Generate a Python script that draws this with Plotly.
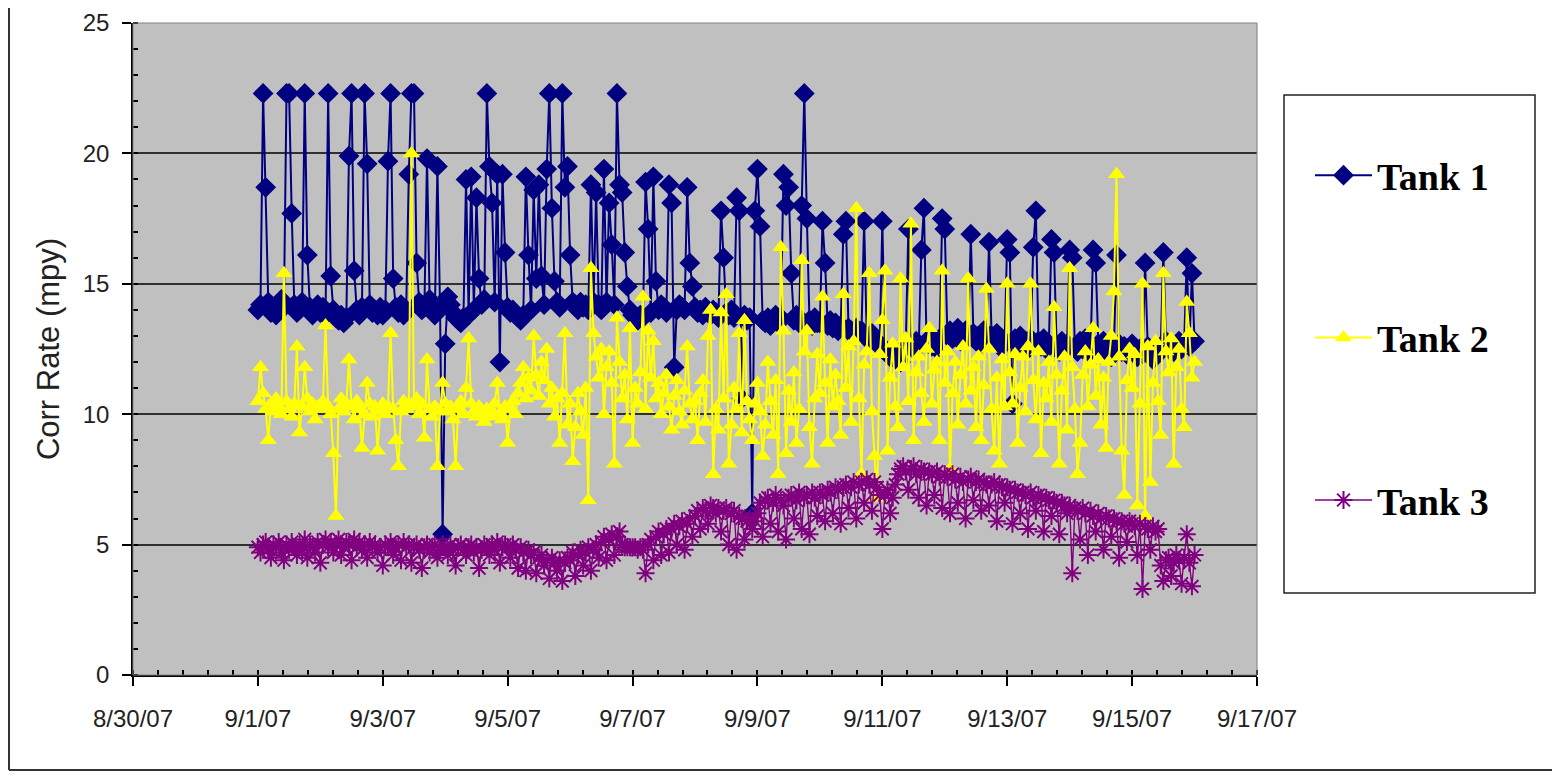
import pandas as pd
import plotly.graph_objects as go

# Hourly readings from 9/1/07 00:00 to 9/16/07 00:00 (one row per day)
start = "2007-09-01 00:00"
n_points = 361

tank1 = [
    14.0, 14.2, 22.3, 18.7, 14.3, 13.9, 14.1, 13.8, 14.0, 14.4, 14.1, 22.3, 22.3, 17.7, 14.2, 13.9, 14.0, 14.3, 22.3, 16.1, 14.1, 13.8, 14.0, 14.2,
    13.9, 14.1, 13.8, 22.3, 15.3, 14.0, 13.7, 13.6, 13.8, 13.5, 13.7, 19.9, 22.3, 15.5, 14.0, 13.8, 14.1, 22.3, 19.6, 14.2, 13.9, 14.0, 13.8, 14.1,
    13.8, 14.0, 19.7, 22.3, 15.2, 14.1, 13.9, 14.2, 13.8, 14.0, 19.2, 22.3, 22.3, 15.8, 14.3, 14.0, 14.1, 19.8, 14.4, 14.0, 13.8, 19.5, 14.1, 5.4,
    12.7, 14.5, 14.2, 13.9, 13.7, 13.6, 13.5, 13.7, 19.0, 13.8, 19.1, 14.0, 18.3, 15.2, 14.2, 14.4, 22.3, 19.5, 18.1, 14.3, 19.2, 12.0, 19.2, 16.2,
    14.1, 13.9, 14.0, 13.8, 13.7, 13.6, 13.8, 19.1, 16.1, 14.0, 18.6, 15.2, 18.8, 15.3, 14.2, 19.4, 22.3, 17.9, 15.1, 14.3, 14.1, 22.3, 18.7, 19.5,
    16.1, 14.3, 14.2, 14.0, 14.3, 14.1, 14.2, 14.0, 18.8, 14.3, 18.5, 14.2, 14.0, 19.4, 14.3, 18.1, 16.5, 14.2, 22.3, 18.8, 18.5, 16.2, 14.9, 14.0,
    13.8, 13.7, 13.6, 13.8, 13.7, 18.9, 17.1, 13.9, 19.1, 15.1, 14.0, 14.2, 14.1, 13.9, 18.8, 18.1, 11.8, 14.0, 14.2, 14.1, 14.0, 18.7, 15.8, 14.9,
    14.1, 13.9, 14.0, 13.8, 14.1, 13.9, 13.8, 14.0, 13.9, 13.7, 17.8, 16.0, 13.9, 13.8, 14.0, 13.7, 18.3, 17.8, 10.6, 13.8, 13.6, 13.7, 6.2, 17.8,
    19.4, 17.2, 13.6, 13.5, 13.7, 13.4, 13.6, 13.8, 13.5, 13.7, 19.2, 18.0, 18.7, 15.4, 13.6, 13.8, 13.5, 18.0, 22.3, 17.5, 13.6, 13.4, 13.7, 13.5,
    13.5, 17.4, 15.8, 13.4, 13.6, 13.3, 13.5, 13.2, 13.4, 16.9, 17.4, 13.3, 13.2, 13.0, 13.3, 13.1, 13.2, 17.4, 13.0, 12.8, 13.1, 12.9, 12.7, 12.6,
    17.4, 12.5, 12.3, 12.2, 12.4, 12.1, 12.3, 12.0, 12.5, 12.6, 17.1, 12.7, 12.5, 12.8, 12.6, 16.3, 17.9, 12.7, 12.9, 12.6, 12.8, 12.5, 12.9, 17.5,
    17.1, 13.0, 13.2, 12.9, 13.1, 13.3, 12.8, 13.0, 13.2, 12.9, 16.9, 13.1, 12.8, 13.0, 12.7, 13.2, 12.9, 16.6, 13.0, 12.8, 13.1, 12.6, 12.9, 12.7,
    16.7, 16.2, 10.4, 12.9, 12.7, 13.0, 12.6, 12.8, 12.5, 12.9, 16.4, 17.8, 12.8, 12.6, 12.9, 12.5, 12.7, 16.7, 16.2, 12.6, 12.4, 12.8, 12.5, 12.7,
    16.3, 16.0, 12.6, 12.4, 12.8, 12.5, 12.9, 12.6, 12.3, 16.3, 15.8, 12.7, 12.5, 12.8, 12.4, 12.6, 12.2, 12.5, 16.1, 12.7, 12.4, 12.6, 12.3, 12.5,
    12.7, 12.4, 12.2, 12.5, 12.3, 15.8, 12.6, 12.4, 12.1, 12.5, 12.3, 12.6, 16.2, 12.8, 12.5, 12.7, 12.4, 12.6, 12.8, 12.5, 12.7, 16.0, 12.6, 15.4,
    12.8,
]

tank2 = [
    10.5, 11.8, 10.8, 10.2, 9.0, 10.4, 10.1, 10.6, 10.3, 10.0, 15.4, 10.5, 10.2, 9.9, 10.4, 12.6, 9.3, 10.3, 11.8, 10.6, 10.1, 10.4, 9.8, 10.3,
    10.2, 10.5, 13.4, 10.3, 10.0, 8.5, 6.1, 10.2, 10.6, 10.1, 10.4, 12.1, 10.3, 9.8, 10.5, 10.2, 8.7, 10.0, 11.2, 10.4, 9.9, 10.3, 8.6, 10.1,
    10.4, 10.0, 10.3, 13.1, 10.2, 9.0, 8.0, 10.1, 10.5, 10.2, 10.4, 20.0, 10.3, 10.6, 10.0, 10.4, 9.1, 12.1, 10.2, 9.9, 10.3, 8.0, 10.1, 11.2,
    10.4, 10.1, 10.3, 9.8, 8.0, 10.2, 10.5, 10.0, 11.0, 12.9, 10.4, 10.1, 9.9, 10.3, 10.0, 9.7, 10.2, 9.9, 10.1, 10.4, 11.2, 10.0, 9.8, 10.3,
    8.9, 10.2, 10.5, 10.0, 10.8, 11.2, 11.8, 10.6, 11.4, 10.9, 13.0, 11.5, 10.7, 12.0, 11.3, 12.5, 10.4, 11.0, 9.9, 10.6, 8.9, 10.8, 13.1, 9.6,
    10.4, 8.2, 9.5, 10.8, 10.1, 9.2, 11.0, 6.7, 15.6, 13.1, 12.2, 11.4, 12.5, 10.0, 11.8, 12.4, 11.2, 8.1, 13.7, 12.0, 10.6, 11.5, 9.8, 13.3,
    8.9, 11.0, 10.4, 11.6, 14.5, 10.2, 13.2, 11.4, 12.8, 10.6, 11.2, 10.0, 10.8, 11.5, 10.3, 9.4, 10.7, 11.3, 10.1, 9.6, 10.9, 12.6, 10.4, 9.8,
    10.5, 9.0, 10.8, 11.3, 9.7, 13.0, 14.0, 7.7, 10.2, 9.4, 13.9, 10.6, 14.6, 8.1, 9.6, 11.0, 10.2, 13.1, 9.3, 13.6, 10.5, 9.8, 9.0, 10.4,
    11.2, 10.1, 8.4, 9.6, 12.0, 10.5, 9.2, 11.3, 7.7, 16.4, 13.2, 8.5, 10.9, 9.7, 11.6, 8.9, 10.2, 15.9, 12.4, 13.2, 9.5, 8.1, 10.6, 12.3,
    10.8, 14.5, 11.2, 8.9, 12.1, 10.3, 11.5, 10.5, 9.2, 14.6, 11.0, 12.6, 9.7, 12.8, 17.9, 10.6, 7.7, 11.9, 12.4, 15.4, 10.1, 8.4, 6.8, 12.3,
    13.6, 15.5, 8.6, 11.4, 12.7, 10.3, 9.5, 15.2, 11.8, 12.9, 10.5, 17.3, 9.0, 11.6, 12.2, 10.8, 9.7, 12.5, 13.3, 10.4, 11.7, 12.0, 9.0, 15.5,
    11.2, 12.4, 7.9, 10.8, 12.0, 9.6, 11.5, 12.6, 10.4, 15.2, 10.9, 11.8, 9.5, 12.2, 9.0, 11.1, 14.8, 12.5, 10.2, 8.6, 11.4, 8.1, 12.1, 10.3,
    15.0, 11.6, 10.4, 12.3, 8.9, 11.0, 12.2, 10.1, 12.6, 15.0, 11.3, 9.8, 12.4, 8.5, 11.2, 10.6, 12.0, 9.7, 14.1, 11.5, 8.1, 10.9, 12.2, 9.4,
    15.6, 11.8, 10.2, 7.7, 8.9, 11.5, 12.4, 10.3, 11.9, 13.3, 10.7, 12.1, 9.6, 11.4, 8.7, 12.0, 13.0, 14.7, 19.2, 12.2, 8.6, 6.9, 11.3, 12.5,
    11.0, 12.3, 6.5, 10.4, 15.0, 6.1, 12.6, 7.4, 11.2, 12.8, 10.5, 9.2, 15.4, 12.4, 11.6, 12.9, 8.1, 11.8, 12.5, 10.2, 9.5, 14.3, 13.1, 11.4,
    12.0,
]

tank3 = [
    4.9, 4.7, 5.0, 5.1, 4.8, 4.5, 5.0, 4.9, 5.1, 4.7, 4.4, 5.0, 4.8, 5.1, 4.9, 4.6, 5.0, 4.8, 5.2, 4.5, 5.0, 4.9, 4.7, 5.1,
    4.3, 5.0, 5.2, 4.9, 5.1, 4.7, 5.0, 5.2, 4.6, 4.9, 5.1, 5.0, 4.4, 5.2, 4.9, 5.1, 4.8, 5.0, 4.5, 5.1, 4.9, 5.0, 4.7, 4.9,
    4.2, 5.0, 4.9, 5.1, 4.6, 4.9, 5.0, 4.4, 5.1, 4.9, 5.0, 4.3, 4.9, 5.0, 4.8, 4.1, 4.9, 5.0, 4.7, 4.9, 5.0, 4.5, 4.8, 5.0,
    4.9, 4.6, 5.0, 4.8, 4.2, 4.9, 5.0, 4.8, 4.6, 4.9, 5.0, 4.7, 4.9, 4.1, 4.8, 5.0, 4.9, 4.6, 5.0, 4.8, 5.1, 4.3, 4.9, 5.0,
    4.9, 4.5, 5.0, 4.8, 4.1, 4.9, 4.7, 4.0, 4.8, 4.6, 4.7, 3.9, 4.5, 4.6, 4.2, 4.4, 3.7, 4.5, 4.3, 4.0, 4.4, 3.6, 4.3, 4.5,
    4.4, 4.7, 3.8, 4.6, 4.8, 4.2, 4.7, 4.9, 4.0, 4.8, 5.0, 4.5, 5.1, 5.3, 4.4, 5.2, 5.4, 4.6, 5.3, 5.5, 5.0, 4.9, 4.9, 4.9,
    4.9, 4.9, 4.8, 4.9, 4.8, 3.9, 5.0, 5.2, 4.4, 5.3, 5.5, 4.6, 5.4, 5.6, 4.7, 5.6, 5.8, 5.0, 5.7, 5.9, 4.8, 5.8, 6.0, 5.3,
    6.1, 6.3, 5.6, 6.4, 6.3, 5.8, 6.5, 6.4, 6.2, 6.4, 5.5, 6.3, 6.4, 5.0, 6.2, 6.3, 4.8, 6.1, 6.0, 5.2, 5.9, 6.0, 5.6, 5.9,
    6.2, 6.6, 5.3, 6.7, 6.8, 5.8, 6.6, 6.9, 5.5, 6.7, 6.5, 5.2, 6.8, 6.9, 6.0, 6.7, 7.0, 5.6, 6.8, 6.9, 5.4, 7.0, 6.8, 6.1,
    7.0, 6.9, 5.9, 7.1, 7.0, 6.2, 7.2, 7.1, 5.8, 7.2, 7.3, 6.4, 7.2, 7.4, 6.0, 7.3, 7.4, 6.6, 7.5, 7.3, 6.3, 7.4, 7.2, 6.9,
    5.6, 6.9, 7.1, 6.2, 6.8, 7.3, 7.7, 7.9, 8.0, 7.8, 7.1, 7.9, 8.0, 7.7, 6.8, 7.9, 7.8, 6.5, 7.8, 7.7, 6.9, 7.8, 7.6, 6.4,
    7.7, 7.6, 6.2, 7.7, 7.5, 6.6, 7.6, 7.4, 6.0, 7.5, 7.6, 6.7, 7.4, 7.5, 6.3, 7.4, 7.3, 6.5, 7.3, 7.4, 5.9, 7.3, 7.2, 6.6,
    7.2, 7.1, 5.8, 7.1, 7.0, 6.2, 7.0, 6.9, 5.6, 7.0, 6.8, 6.3, 6.9, 6.8, 5.5, 6.8, 6.7, 6.1, 6.7, 6.6, 5.4, 6.6, 6.5, 6.2,
    6.5, 3.9, 6.4, 6.3, 5.2, 6.4, 6.2, 4.6, 6.3, 6.1, 5.5, 6.2, 6.0, 4.8, 6.1, 6.0, 5.3, 6.0, 5.9, 4.5, 5.9, 5.8, 5.1, 5.9,
    5.8, 5.7, 4.6, 5.8, 3.3, 5.7, 5.6, 4.8, 5.7, 5.5, 5.6, 4.2, 3.6, 4.4, 4.5, 3.8, 4.3, 4.6, 4.4, 3.5, 4.5, 5.4, 4.3, 3.4,
    4.6,
]

series_names = ["Tank 1", "Tank 2", "Tank 3"]
x_tick_format = "%-m/%-d/%y"

times = pd.date_range(start, periods=n_points, freq="h")

# geometry: the page body has an 8px margin, so figure coords = screen - 8
OFF = 8
W, H = 1552, 770
PL, PR, PT, PB = 133 - OFF, 1257 - OFF, 23 - OFF, 675 - OFF
pw, ph = PR - PL, PB - PT


def px(sx):
    return (sx - OFF - PL) / pw


def py(sy):
    return (PB - (sy - OFF)) / ph


fig = go.Figure()
fig.add_trace(go.Scatter(
    x=times, y=tank1, name=series_names[0], mode="lines+markers",
    line=dict(color="#000080", width=2),
    marker=dict(symbol="diamond", size=16, color="#000080"),
    legendgroup="g1",
))
fig.add_trace(go.Scatter(
    x=times, y=tank2, name=series_names[1], mode="lines+markers",
    line=dict(color="#FFFF00", width=2),
    marker=dict(symbol="triangle-up", size=15, color="#FFFF00"),
    legendgroup="g2",
))
fig.add_trace(go.Scatter(
    x=times, y=tank3, name=series_names[2], mode="lines+markers",
    line=dict(color="#800080", width=1.4),
    marker=dict(symbol="asterisk-open", size=15, color="#800080",
                line=dict(color="#800080", width=2)),
    legendgroup="g3",
))

fig.update_layout(
    width=W, height=H,
    margin=dict(l=PL, r=W - PR, t=PT, b=H - PB, pad=0),
    paper_bgcolor="#ffffff",
    plot_bgcolor="#C0C0C0",
    font=dict(family="Liberation Sans, Arial", color="#222222"),
    showlegend=True,
    legend=dict(
        x=px(1310), y=py(144), xanchor="left", yanchor="top",
        traceorder="grouped", tracegroupgap=110,
        bgcolor="rgba(0,0,0,0)", borderwidth=0,
        itemwidth=57,
        font=dict(family="Liberation Serif, Times New Roman", size=38,
                  color="#000000", weight="bold"),
    ),
    shapes=[
        # outer chart frame (left and bottom edges visible)
        dict(type="line", xref="paper", yref="paper",
             x0=px(9), x1=px(9), y0=py(770), y1=py(8),
             line=dict(color="#333333", width=2)),
        dict(type="line", xref="paper", yref="paper",
             x0=px(9), x1=px(1560), y0=py(770), y1=py(770),
             line=dict(color="#333333", width=2)),
        # legend box
        dict(type="rect", xref="paper", yref="paper",
             x0=px(1284), x1=px(1535), y0=py(593), y1=py(95),
             fillcolor="white", line=dict(color="#222222", width=1.5),
             layer="below"),
        # plot area border
        dict(type="rect", xref="paper", yref="paper",
             x0=0, x1=1, y0=0, y1=1,
             line=dict(color="#808080", width=1)),
    ],
)

fig.update_xaxes(
    type="date",
    range=["2007-08-30", "2007-09-17"],
    tick0="2007-08-30", dtick=2 * 86400000,
    tickformat=x_tick_format,
    ticks="outside", ticklen=9, tickwidth=1.5, tickcolor="#000000",
    minor=dict(dtick=int(0.4 * 86400000), tick0="2007-08-30",
               ticks="inside", ticklen=5, tickwidth=1.5, tickcolor="#000000",
               showgrid=False),
    showline=True, linecolor="#000000", linewidth=1.5,
    showgrid=False, zeroline=False,
    tickfont=dict(size=24, color="#222222"),
    ticklabelstandoff=12,
)

fig.update_yaxes(
    range=[0, 25],
    tick0=0, dtick=5,
    ticks="outside", ticklen=9, tickwidth=1.5, tickcolor="#000000",
    minor=dict(dtick=1, ticks="inside", ticklen=5, tickwidth=1.5,
               tickcolor="#000000", showgrid=False),
    showline=True, linecolor="#000000", linewidth=1.5,
    showgrid=True, gridcolor="#303030", gridwidth=2,
    zeroline=False,
    tickfont=dict(size=24, color="#222222"),
    ticklabelstandoff=8,
    title=dict(text="Corr Rate (mpy)", font=dict(size=31, color="#222222"),
               standoff=14),
    automargin=False,
)

fig.write_html("out.html")
